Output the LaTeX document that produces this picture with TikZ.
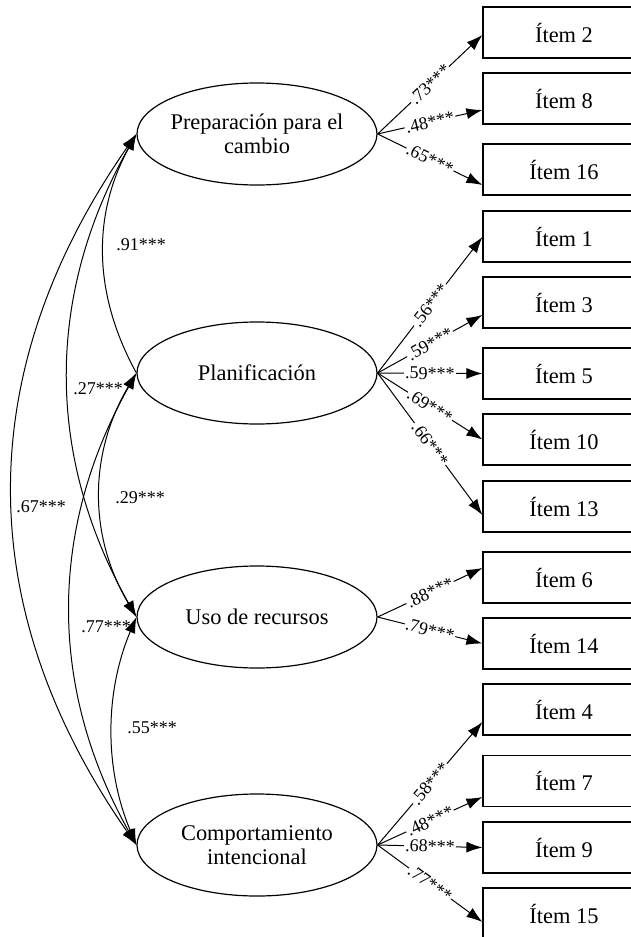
\documentclass[tikz,border=0pt]{standalone}
\usepackage{fontspec}
\setmainfont{Liberation Serif}
\usetikzlibrary{arrows.meta,shapes.geometric}
\begin{document}
\begin{tikzpicture}[x=0.5pt,y=-0.5pt,
  lv/.style={draw, ellipse, minimum width=120pt, minimum height=51pt, inner sep=-14pt, align=center, font=\fontsize{11.2}{12}\selectfont, line width=0.6pt},
  item/.style={draw, rectangle, minimum width=81pt, minimum height=25.5pt, inner sep=0pt, font=\fontsize{11.2}{13}\selectfont, line width=0.6pt},
  load/.style={line width=0.5pt, -{Latex[length=8pt,width=5.5pt]}},
  lab/.style={sloped, pos=0.5, fill=white, inner sep=0.6pt, font=\fontsize{9}{10}\selectfont},
  cov/.style={line width=0.5pt},
  both/.style={{Latex[length=8pt,width=5.5pt]}-{Latex[length=8pt,width=5.5pt]}},
  startonly/.style={{Latex[length=8pt,width=5.5pt]}-},
  clab/.style={font=\fontsize{9}{10}\selectfont, inner sep=0pt}
]
\useasboundingbox (0,0) rectangle (631,937);
\clip (0,0) rectangle (631,937);

% latent variables
\node[lv] (prep) at (257,134) {Preparación para el\\cambio};
\node[lv] (plan) at (257,373) {Planificación};
\node[lv] (uso)  at (257,617) {Uso de recursos};
\node[lv] (comp) at (257,845) {Comportamiento\\intencional};

% items
\node[item] (i2)  at (564,32.5)  {Ítem 2};
\node[item] (i8)  at (564,98.5)  {Ítem 8};
\node[item] (i16) at (564,169.5) {Ítem 16};
\node[item] (i1)  at (564,236.5) {Ítem 1};
\node[item] (i3)  at (564,302.5) {Ítem 3};
\node[item] (i5)  at (564,373.5) {Ítem 5};
\node[item] (i10) at (564,439.5) {Ítem 10};
\node[item] (i13) at (564,506.5) {Ítem 13};
\node[item] (i6)  at (564,577.5) {Ítem 6};
\node[item] (i14) at (564,643.5) {Ítem 14};
\node[item] (i4)  at (564,709.5) {Ítem 4};
\node[item] (i7)  at (564,781)   {Ítem 7};
\node[item] (i9)  at (564,847.5) {Ítem 9};
\node[item] (i15) at (564,913.5) {Ítem 15};

% loadings
\draw[load] (prep.east) -- node[lab]{.73***} ([shift={(0,2.5)}]i2.west);
\draw[load] (prep.east) -- node[lab]{.48***} ([shift={(0,11.5)}]i8.west);
\draw[load] (prep.east) -- node[lab]{.65***} ([shift={(0,15.5)}]i16.west);

\draw[load] (plan.east) -- node[lab]{.56***} ([shift={(0,0.5)}]i1.west);
\draw[load] (plan.east) -- node[lab]{.59***} ([shift={(0,12.5)}]i3.west);
\draw[load] (plan.east) -- node[lab]{.59***} (i5.west);
\draw[load] (plan.east) -- node[lab]{.69***} (i10.west);
\draw[load] (plan.east) -- node[lab]{.66***} ([shift={(0,8.5)}]i13.west);

\draw[load] (uso.east) -- node[lab]{.88***} ([shift={(0,-9.5)}]i6.west);
\draw[load] (uso.east) -- node[lab]{.79***} (i14.west);

\draw[load] (comp.east) -- node[lab]{.58***} ([shift={(0,12.5)}]i4.west);
\draw[load] (comp.east) -- node[lab]{.48***} ([shift={(0,16)}]i7.west);
\draw[load] (comp.east) -- node[lab]{.68***} (i9.west);
\draw[load] (comp.east) -- node[lab]{.77***} ([shift={(0,8.5)}]i15.west);

% covariances
\draw[cov, startonly] (prep.west) .. controls +(-44,80) and +(-44,-80) .. (plan.west);
\draw[cov, both] (prep.west) .. controls +(-91,161) and +(-91,-161) .. (uso.west);
\draw[cov, both] (prep.west) .. controls +(-165,237) and +(-165,-237) .. (comp.west);
\draw[cov, both] (plan.west) .. controls +(-48,81) and +(-48,-81) .. (uso.west);
\draw[cov, both] (plan.west) .. controls +(-88,157) and +(-88,-157) .. (comp.west);
\draw[cov, both] (uso.west) .. controls +(-32,76) and +(-32,-76) .. (comp.west);

% covariance labels
\node[clab] (c91) at (141,245) {.91***};
\node[clab] (c27) at (98,389)  {.27***};
\node[clab] (c67) at (41,507)  {.67***};
\node[clab] (c29) at (140,498) {.29***};
\node[clab] (c77) at (106,627) {.77***};
\node[clab] (c55) at (152,728) {.55***};
\end{tikzpicture}
\end{document}
